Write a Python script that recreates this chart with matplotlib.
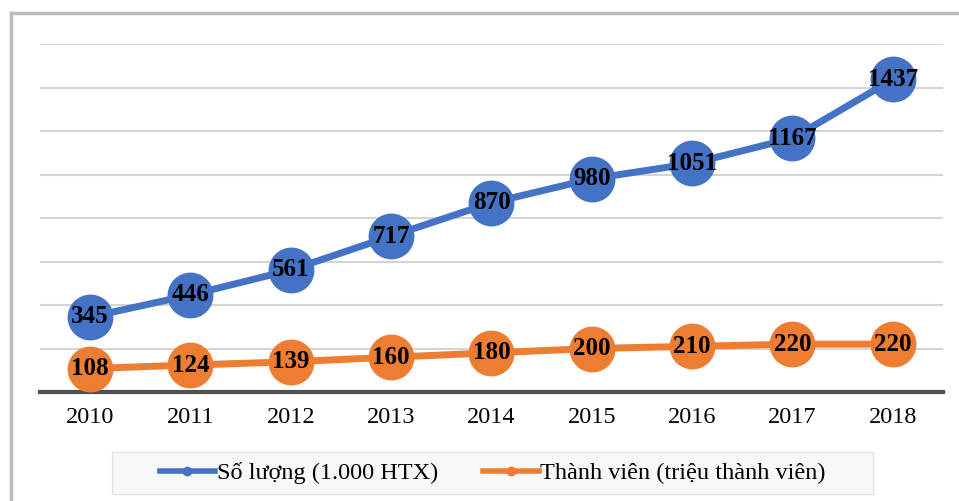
import matplotlib.pyplot as plt
from matplotlib.lines import Line2D
from matplotlib.patches import Rectangle

years = ['2010', '2011', '2012', '2013', '2014', '2015', '2016', '2017', '2018']
so_luong = [345, 446, 561, 717, 870, 980, 1051, 1167, 1437]
thanh_vien = [108, 124, 139, 160, 180, 200, 210, 220, 220]

blue = '#4472C4'
orange = '#ED7D31'

plt.rcParams['font.family'] = ['Liberation Serif', 'DejaVu Serif']

W, H = 959, 501
fig = plt.figure(figsize=(W / 100, H / 100), dpi=100)
ax = fig.add_axes([40 / W, 109 / H, 903 / W, 348 / H])

x = range(len(years))
ax.plot(x, so_luong, color=blue, lw=5, marker='o', ms=32, zorder=3)
ax.plot(x, thanh_vien, color=orange, lw=5, marker='o', ms=32, zorder=3)

# nhãn số liệu
for xi, v in zip(x, so_luong):
    ax.text(xi, v, str(v), ha='center', va='center', fontsize=18, fontweight='bold', zorder=4)
for xi, v in zip(x, thanh_vien):
    ax.text(xi, v, str(v), ha='center', va='center', fontsize=18, fontweight='bold', zorder=4)

ax.set_xlim(-0.5, 8.5)
ax.set_ylim(0, 1600)
ax.set_yticks(range(0, 1601, 200))
ax.set_yticklabels([])
ax.set_xticks(list(x))
ax.set_xticklabels(years, fontsize=17.5)
ax.tick_params(length=0, pad=11)
ax.grid(axis='y', color='#d4d4d4', lw=1.5)
ax.set_axisbelow(True)
for s in ['top', 'right', 'left']:
    ax.spines[s].set_visible(False)
ax.spines['bottom'].set_color('#505050')
ax.spines['bottom'].set_linewidth(3)

# chú thích
fig.add_artist(Rectangle((112 / W, 7 / H), 761 / W, 42 / H, transform=fig.transFigure,
                         facecolor='#f8f8f8', edgecolor='#e2e2e2', lw=1))
handles = [
    Line2D([], [], color=blue, lw=4, marker='o', ms=6),
    Line2D([], [], color=orange, lw=4, marker='o', ms=6),
]
fig.legend(handles, ['Số lượng (1.000 HTX)', 'Thành viên (triệu thành viên)'],
           loc='center', bbox_to_anchor=(492.5 / W, 28 / H), ncol=2, fontsize=17.5,
           frameon=False, handlelength=2.3, handletextpad=0.05, columnspacing=1.85)

# khung ngoài
fig.add_artist(Line2D([11 / W, 11 / W], [0, 1 - 13 / H], color='#bcbcbc', lw=2.5, transform=fig.transFigure))
fig.add_artist(Line2D([11 / W, 1], [1 - 13 / H, 1 - 13 / H], color='#bcbcbc', lw=2.5, transform=fig.transFigure))

fig.savefig('out.png', dpi=100)
